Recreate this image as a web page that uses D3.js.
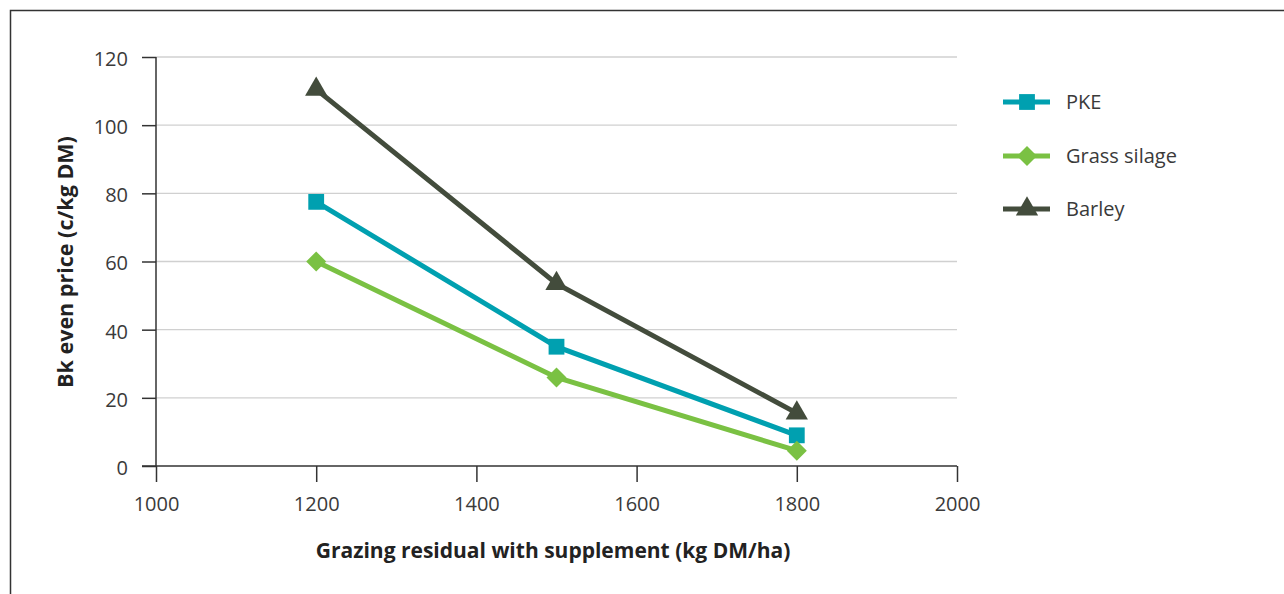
<!DOCTYPE html>
<html><head><meta charset="utf-8">
<script src="https://cdn.jsdelivr.net/npm/d3@7"></script>
<style>body{margin:0;background:#fff;} text{font-family:"Open Sans","Noto Sans",sans-serif;}</style>
</head><body>
<svg id="c" width="1284" height="594"></svg>
<script>
const xValues = [1200, 1500, 1800];
const pke = [77.5, 35, 9];
const grassSilage = [60, 26, 4.5];
const barley = [110.5, 53.5, 15.5];
const seriesNames = ["PKE", "Grass silage", "Barley"];
const seriesColors = ["#00a0b0", "#7ac143", "#434c3c"];
const seriesSymbols = ["square", "diamond", "triangle"];
const xTicks = [1000, 1200, 1400, 1600, 1800, 2000];
const yTicks = [0, 20, 40, 60, 80, 100, 120];

const svg = d3.select("#c");
// frame
svg.append("path").attr("d","M10.5,594 V10.5 H1284").attr("fill","none").attr("stroke","#333").attr("stroke-width",1.5);

const x = d3.scaleLinear().domain([1000,2000]).range([156,957]);
const y = d3.scaleLinear().domain([0,120]).range([466,57]);

// gridlines
svg.append("g").selectAll("line").data(yTicks.filter(d=>d>0)).join("line")
 .attr("x1",156).attr("x2",957).attr("y1",d=>y(d)).attr("y2",d=>y(d))
 .attr("stroke","#d0d0d0").attr("stroke-width",1.3);

const yAxis = svg.append("g").attr("transform","translate(156,0)")
 .call(d3.axisLeft(y).tickValues(yTicks).tickSize(14).tickPadding(14).tickFormat(d3.format("d")));
const xAxis = svg.append("g").attr("transform","translate(0,466)")
 .call(d3.axisBottom(x).tickValues(xTicks).tickSize(16).tickPadding(15).tickFormat(d3.format("d")));
[yAxis,xAxis].forEach(a=>{
 a.select(".domain").attr("stroke","#333").attr("stroke-width",1.5);
 a.selectAll(".tick line").attr("stroke","#333").attr("stroke-width",1.5);
 a.selectAll("text").attr("fill","#3a3a3a").style("font-size","20px");
});
yAxis.selectAll("text").attr("dy","0.42em");
yAxis.select(".domain").attr("d","M0,57V466");
xAxis.select(".domain").attr("d","M142,0H957");

const symType = {square:d3.symbolSquare, diamond:d3.symbolSquare, triangle:d3.symbolTriangle};
const symSize = {square:250, diamond:200, triangle:215};
const symRot = {square:0, diamond:45, triangle:0};
const data = [pke, grassSilage, barley];

data.forEach((vals,i)=>{
 const s = seriesSymbols[i];
 const pts = xValues.map((xv,j)=>[x(xv), y(vals[j])]);
 svg.append("path").attr("d",d3.line()(pts)).attr("fill","none")
  .attr("stroke",seriesColors[i]).attr("stroke-width",5);
 svg.append("g").selectAll("path").data(pts).join("path")
  .attr("transform",d=>`translate(${d[0]},${d[1]}) rotate(${symRot[s]})`)
  .attr("d",d3.symbol().type(symType[s]).size(symSize[s]))
  .attr("fill",seriesColors[i]);
});

// legend
const legY = [102, 156, 209];
seriesNames.forEach((n,i)=>{
 const s = seriesSymbols[i];
 const g = svg.append("g").attr("transform",`translate(1003,${legY[i]})`);
 g.append("line").attr("x1",0).attr("x2",47).attr("stroke",seriesColors[i]).attr("stroke-width",5);
 g.append("path").attr("transform",`translate(24,0) rotate(${symRot[s]})`)
  .attr("d",d3.symbol().type(symType[s]).size(symSize[s]))
  .attr("fill",seriesColors[i]);
 g.append("text").attr("x",63).attr("y",7).text(n).attr("fill","#3a3a3a").style("font-size","20px");
});

// axis titles
svg.append("text").attr("x",553).attr("y",558).attr("text-anchor","middle")
 .attr("fill","#222").style("font-size","21px").style("font-weight","bold")
 .text("Grazing residual with supplement (kg DM/ha)");
svg.append("text").attr("transform","translate(73,262) rotate(-90)").attr("text-anchor","middle")
 .attr("fill","#222").style("font-size","21.5px").style("font-weight","bold")
 .text("Bk even price (c/kg DM)");
</script>
</body></html>
